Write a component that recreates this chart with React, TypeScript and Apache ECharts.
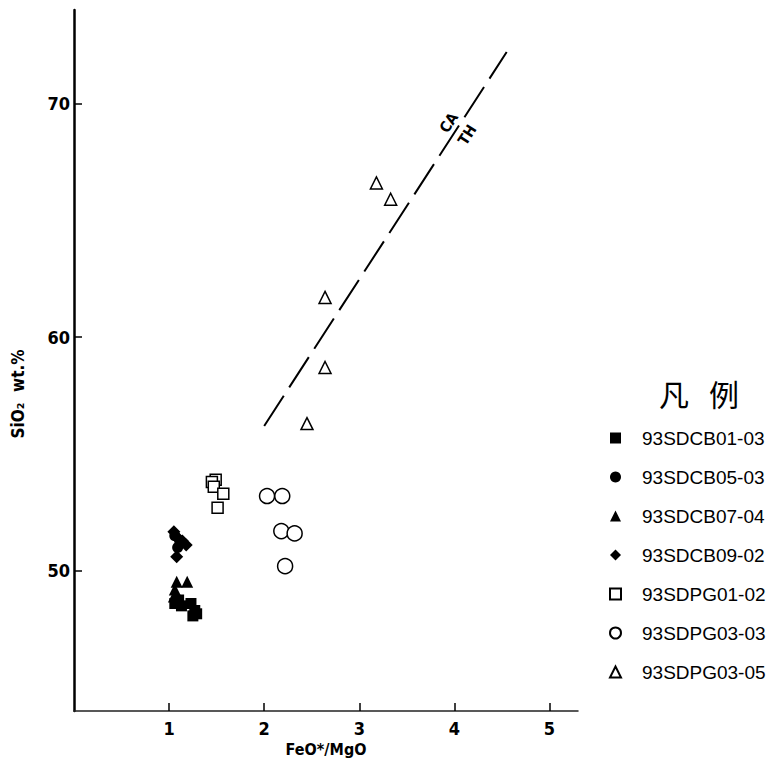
import React, { useEffect, useRef } from 'react';
import * as echarts from 'echarts';

// ---- data ----
const seriesNames = ['93SDCB01-03', '93SDCB05-03', '93SDCB07-04', '93SDCB09-02', '93SDPG01-02', '93SDPG03-03', '93SDPG03-05'];
const cb0103 = [[1.06, 48.6], [1.13, 48.5], [1.1, 48.75], [1.23, 48.6], [1.27, 48.3], [1.25, 48.07], [1.29, 48.16]];
const cb0503 = [[1.06, 51.5], [1.11, 51.3], [1.09, 51.0]];
const cb0704 = [[1.08, 49.53], [1.19, 49.53], [1.06, 49.2], [1.05, 48.9], [1.11, 48.76]];
const cb0902 = [[1.05, 51.67], [1.08, 51.46], [1.14, 51.28], [1.18, 51.1], [1.08, 50.6]];
const pg0102 = [[1.49, 53.9], [1.45, 53.8], [1.47, 53.6], [1.57, 53.3], [1.51, 52.7]];
const pg0303 = [[2.03, 53.2], [2.19, 53.2], [2.18, 51.7], [2.32, 51.6], [2.22, 50.2]];
const pg0305 = [[3.18, 66.6], [3.33, 65.9], [2.64, 61.7], [2.64, 58.7], [2.45, 56.3]];
const boundary = [[2.0, 56.2], [4.55, 72.2]];
const boundaryLabelX = 4.03;
const xTicks = [1, 2, 3, 4, 5];
const yTicks = [50, 60, 70];
const xRange = [0, 5.3];
const yRange = [44, 74];

const AXIS_FONT = "'Liberation Sans Narrow', 'DejaVu Sans Condensed', sans-serif";

export default function App() {
  const ref = useRef<HTMLDivElement>(null);
  useEffect(() => {
    document.body.style.margin = '0';
    const chart = echarts.init(ref.current!, null, { renderer: 'svg' });
    const filled = { color: '#000', opacity: 1 };
    const hollow = { color: '#fff', borderColor: '#000', borderWidth: 1.5, opacity: 1 };
    const mk = (name: string, data: number[][], symbol: string, size: number, style: any) => ({
      name, type: 'scatter', data, symbol, symbolSize: size, itemStyle: style, z: 3,
    });
    chart.setOption({
      animation: false,
      grid: { left: 74, top: 10, right: 201, bottom: 52, containLabel: false },
      xAxis: {
        type: 'value', min: xRange[0], max: xRange[1],
        name: 'FeO*/MgO', nameLocation: 'middle', nameGap: 29,
        nameTextStyle: { fontFamily: AXIS_FONT, fontWeight: 'bold', fontSize: 16, color: '#000' },
        axisLine: { lineStyle: { color: '#222', width: 1.5 } },
        axisTick: { inside: true, length: 8, lineStyle: { color: '#000', width: 1.5 }, customValues: xTicks },
        axisLabel: { customValues: xTicks, margin: 8, fontFamily: AXIS_FONT, fontWeight: 'bold', fontSize: 18, color: '#000' },
        splitLine: { show: false },
      },
      yAxis: {
        type: 'value', min: yRange[0], max: yRange[1],
        axisLine: { lineStyle: { color: '#000', width: 2.5 } },
        axisTick: { inside: true, length: 8, lineStyle: { color: '#000', width: 1.5 }, customValues: yTicks },
        axisLabel: { customValues: yTicks, margin: 4, fontFamily: AXIS_FONT, fontWeight: 'bold', fontSize: 18, color: '#000' },
        splitLine: { show: false },
      },
      legend: {
        orient: 'vertical', left: 604, top: 423, itemWidth: 11, itemHeight: 11, itemGap: 19,
        data: seriesNames,
        textStyle: { fontFamily: "'Liberation Sans', Arial, sans-serif", fontSize: 19, color: '#000', lineHeight: 20, padding: [0, 0, 0, 16] },
      },
      series: [
        mk(seriesNames[0], cb0103, 'rect', 11, filled),
        mk(seriesNames[1], cb0503, 'circle', 11, filled),
        mk(seriesNames[2], cb0704, 'triangle', 12, filled),
        mk(seriesNames[3], cb0902, 'diamond', 13, filled),
        mk(seriesNames[4], pg0102, 'rect', 11, hollow),
        mk(seriesNames[5], pg0303, 'circle', 15, hollow),
        mk(seriesNames[6], pg0305, 'triangle', 12, hollow),
        {
          name: 'CA/TH', type: 'line', data: boundary, symbol: 'none', silent: true,
          lineStyle: { color: '#000', width: 2, type: [36, 10] }, z: 2,
        },
      ],
    });

    const p0 = chart.convertToPixel({ gridIndex: 0 }, boundary[0]) as number[];
    const p1 = chart.convertToPixel({ gridIndex: 0 }, boundary[1]) as number[];
    const dx = p1[0] - p0[0], dy = p1[1] - p0[1];
    const len = Math.hypot(dx, dy);
    const ux = dx / len, uy = dy / len;
    const nx = uy, ny = -ux; // upper-left normal
    const t = (boundaryLabelX - boundary[0][0]) / (boundary[1][0] - boundary[0][0]);
    const mx = p0[0] + t * dx, my = p0[1] + t * dy;
    const ang = Math.atan2(-dy, dx);
    const labelStyle = { fontFamily: AXIS_FONT, fontWeight: 'bold', fontSize: 15, fill: '#000', align: 'center', verticalAlign: 'middle' };
    chart.setOption({
      graphic: [
        { type: 'text', x: mx + 10 * nx, y: my + 10 * ny, rotation: ang, style: { ...labelStyle, text: 'CA' } },
        { type: 'text', x: mx - 12 * nx, y: my - 12 * ny, rotation: ang, style: { ...labelStyle, text: 'TH' } },
        {
          type: 'text', x: 18, y: 394, rotation: Math.PI / 2,
          style: { text: 'SiO₂  wt.%', fontFamily: AXIS_FONT, fontWeight: 'bold', fontSize: 17, fill: '#000', align: 'center', verticalAlign: 'middle' },
        },
        {
          type: 'text', x: 699, y: 393,
          style: { text: '凡   例', fontFamily: "'Noto Sans CJK SC', sans-serif", fontSize: 30, fill: '#000', align: 'center', verticalAlign: 'middle' },
        },
      ],
    });
    return () => chart.dispose();
  }, []);
  return <div ref={ref} style={{ width: 779, height: 763 }} />;
}
